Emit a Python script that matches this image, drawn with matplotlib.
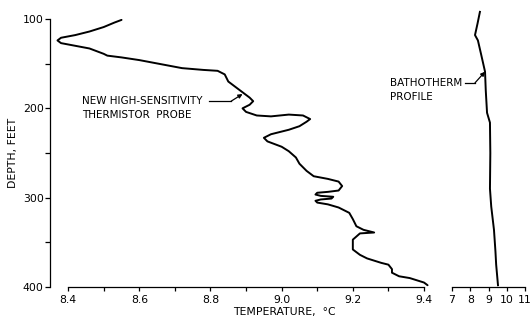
import matplotlib
matplotlib.use('Agg')
import matplotlib.pyplot as plt
from matplotlib.ticker import MultipleLocator

plt.rcParams['font.family'] = ['DejaVu Sans']

# thermistor probe trace (temperature, depth) in drawing order
probe_temp = [8.55, 8.53, 8.50, 8.46, 8.42, 8.38, 8.37, 8.38, 8.42, 8.46, 8.48, 8.50,
              8.51, 8.55, 8.60, 8.64, 8.68, 8.72, 8.78, 8.82, 8.84, 8.85, 8.87, 8.89,
              8.91, 8.92, 8.91, 8.89, 8.90, 8.93, 8.97, 9.02, 9.06, 9.08, 9.07, 9.05,
              9.02, 8.97, 8.95, 8.96, 9.00, 9.02, 9.04, 9.05, 9.07, 9.09, 9.13, 9.16,
              9.17, 9.16, 9.13, 9.10, 9.095, 9.11, 9.145, 9.14, 9.11, 9.095, 9.10, 9.13,
              9.16, 9.19, 9.20, 9.21, 9.23, 9.26, 9.22, 9.20, 9.20, 9.22, 9.24, 9.28,
              9.30, 9.31, 9.31, 9.33, 9.36, 9.40, 9.41]
probe_depth = [101, 104, 109, 114, 118, 121, 124, 127, 130, 133, 136, 139,
               141, 143, 146, 149, 152, 155, 157, 158, 162, 170, 176, 182,
               188, 192, 196, 200, 204, 208, 209, 207, 208, 212, 215, 220,
               224, 229, 233, 237, 243, 248, 255, 262, 270, 276, 279, 282,
               287, 292, 293.5, 294.5, 296.5, 298, 299, 301, 302, 303.5, 305.5, 307.5,
               311, 317, 324, 332, 336, 339, 340, 347, 358, 364, 368, 373,
               375, 380, 384, 388, 390, 395, 398]

# bathythermograph trace
bath_temp = [8.53, 8.40, 8.26, 8.42, 8.60, 8.81, 8.85, 8.92, 9.08, 9.10, 9.08, 9.15,
             9.30, 9.38, 9.42, 9.52]
bath_depth = [92, 105, 118, 124, 140, 159, 180, 205, 216, 250, 290, 310,
              336, 360, 375, 398]

probe_ticks = [8.4, 8.6, 8.8, 9.0, 9.2, 9.4]
probe_ticklabels = ['8.4', '8.6', '8.8', '9.0', '9.2', '9.4']
bath_ticks = [7, 8, 9, 10, 11]
depth_ticks = [100, 200, 300, 400]

W, H = 532, 326
fig = plt.figure(figsize=(W / 100, H / 100), dpi=100)

ax1 = fig.add_axes([50 / W, 39 / H, 374 / W, 268 / H])
ax2 = fig.add_axes([452 / W, 39 / H, 73 / W, 268 / H])
ax2.patch.set_visible(False)

fs = 7.8
fs_note = 7.5

# main panel
ax1.plot(probe_temp, probe_depth, color='black', lw=1.4, clip_on=False,
         solid_capstyle='round')
ax1.set_xlim(8.349, 9.4)
ax1.set_ylim(400, 100)
for s in ['top', 'right']:
    ax1.spines[s].set_visible(False)
ax1.spines['bottom'].set_bounds(8.4, 9.4)
ax1.spines['left'].set_bounds(100, 400)
for s in ['bottom', 'left']:
    ax1.spines[s].set_linewidth(0.9)
ax1.set_xticks(probe_ticks)
ax1.set_xticklabels(probe_ticklabels)
ax1.xaxis.set_minor_locator(MultipleLocator(0.1))
ax1.set_yticks(depth_ticks)
ax1.yaxis.set_minor_locator(MultipleLocator(50))
ax1.tick_params(axis='x', which='both', direction='out', length=3, width=0.9,
                labelsize=fs, pad=2.5)
ax1.tick_params(axis='y', which='both', direction='out', length=3.5, width=0.9,
                labelsize=fs, pad=1)

# bathotherm panel
ax2.plot(bath_temp, bath_depth, color='black', lw=1.4, clip_on=False)
ax2.set_xlim(7, 11)
ax2.set_ylim(400, 100)
for s in ['top', 'right', 'left']:
    ax2.spines[s].set_visible(False)
ax2.spines['bottom'].set_linewidth(0.9)
ax2.set_xticks(bath_ticks)
ax2.set_yticks([])
ax2.tick_params(axis='x', direction='out', length=3, width=0.9, labelsize=fs, pad=2.5)

# annotations
ax1.text(8.44, 192, 'NEW HIGH-SENSITIVITY', fontsize=fs_note, va='center', ha='left')
ax1.text(8.44, 207, 'THERMISTOR  PROBE', fontsize=fs_note, va='center', ha='left')
ax1.plot([8.797, 8.858], [192, 192], color='black', lw=0.9)
ax1.annotate('', xy=(8.89, 184), xytext=(8.858, 192),
             arrowprops=dict(arrowstyle='-|>', color='black', lw=0.9,
                             mutation_scale=6, shrinkA=0, shrinkB=0))

ax1.text(9.305, 171.5, 'BATHOTHERM', fontsize=fs_note, va='center', ha='left')
ax1.text(9.305, 187, 'PROFILE', fontsize=fs_note, va='center', ha='left')
ax2.plot([7.71, 8.26], [171.5, 171.5], color='black', lw=0.9, clip_on=False)
ax2.annotate('', xy=(8.81, 159), xytext=(8.26, 171.5),
             arrowprops=dict(arrowstyle='-|>', color='black', lw=0.9,
                             mutation_scale=6, shrinkA=0, shrinkB=0),
             annotation_clip=False)

fig.text(284 / W, 1 - 312 / H, 'TEMPERATURE,  \u00b0C', fontsize=fs,
         ha='center', va='center')
fig.text(13 / W, 1 - 153 / H, 'DEPTH, FEET', fontsize=fs, rotation=90,
         ha='center', va='center')

fig.savefig('out.png', dpi=100, facecolor='white')
